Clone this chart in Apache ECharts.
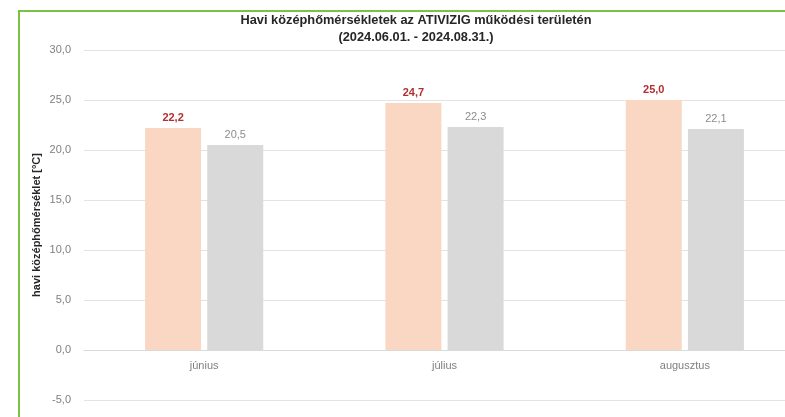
<!DOCTYPE html>
<html>
<head>
<meta charset="utf-8">
<script src="https://cdn.jsdelivr.net/npm/echarts@6/dist/echarts.min.js"></script>
<style>
    html, body {
        margin: 0;
        padding: 0;
        background: #fff;
    }
    .card {
        position: relative;
        width: 785px;
        height: 417px;
        overflow: hidden;
    }
    #bar {
        position: absolute;
        left: 0;
        top: 0;
        width: 785px;
        height: 417px;
    }
    .frame {
        position: absolute;
        left: 18px;
        top: 10px;
        width: 790px;
        height: 420px;
        border-left: 2px solid #7cc242;
        border-top: 2px solid #7cc242;
        pointer-events: none;
    }
</style>
</head>
<body>
<div class="card">
    <div id="bar"></div>
    <div class="frame"></div>
</div>
<script>
// 月份
const months = ['június', 'július', 'augusztus']
// 2024 havi középhőmérséklet
const valuesCurrent = [22.2, 24.7, 25.0]
// összehasonlító (szürke) oszlopok
const valuesRef = [20.5, 22.3, 22.1]
// y tengely
const yMin = -5
const yMax = 30
const yStep = 5

const fontFamily = '"Liberation Sans", "DejaVu Sans", sans-serif'
const fmt = v => v.toFixed(1).replace('.', ',')

const barChart = echarts.init(document.getElementById('bar'))

const option = {
    animation: false,
    backgroundColor: '#fff',
    textStyle: { fontFamily: fontFamily },
    title: {
        text: 'Havi középhőmérsékletek az ATIVIZIG működési területén\n(2024.06.01. - 2024.08.31.)',
        left: 411,
        top: 7,
        textAlign: 'center',
        textStyle: {
            fontSize: 12.8,
            fontWeight: 'bold',
            color: '#262626',
            lineHeight: 17,
            fontFamily: fontFamily
        }
    },
    grid: {
        left: 84,
        right: -20,
        top: 50,
        bottom: 17,
        outerBoundsMode: 'none'
    },
    xAxis: {
        type: 'category',
        data: months,
        // a kategóriatengely a 0,0 vonalon fut
        offset: -50,
        axisTick: { show: false },
        axisLine: {
            onZero: false,
            lineStyle: { color: '#d9d9d9', width: 1 }
        },
        axisLabel: {
            color: '#7f7f7f',
            fontSize: 11,
            margin: 10
        }
    },
    yAxis: {
        type: 'value',
        min: yMin,
        max: yMax,
        interval: yStep,
        name: 'havi középhőmérséklet [°C]',
        nameLocation: 'middle',
        nameGap: 42,
        nameMoveOverlap: false,
        nameTextStyle: {
            fontSize: 11,
            fontWeight: 'bold',
            color: '#262626'
        },
        axisLine: { show: false },
        axisTick: { show: false },
        axisLabel: {
            color: '#7f7f7f',
            fontSize: 11,
            margin: 13,
            formatter: v => fmt(v)
        },
        splitLine: {
            lineStyle: { color: '#e3e3e3', width: 1 }
        }
    },
    series: [
        {
            name: 'current',
            type: 'bar',
            data: valuesCurrent,
            barWidth: 56,
            barGap: '11%',
            itemStyle: { color: '#f9d7c3' },
            label: {
                show: true,
                position: 'top',
                distance: 5,
                color: '#b22f2f',
                fontWeight: 'bold',
                fontSize: 11,
                formatter: p => fmt(p.value)
            }
        },
        {
            name: 'reference',
            type: 'bar',
            data: valuesRef,
            barWidth: 56,
            itemStyle: { color: '#d9d9d9' },
            label: {
                show: true,
                position: 'top',
                distance: 5,
                color: '#8c8c8c',
                fontSize: 11,
                formatter: p => fmt(p.value)
            }
        }
    ]
}

barChart.setOption(option)
</script>
</body>
</html>
